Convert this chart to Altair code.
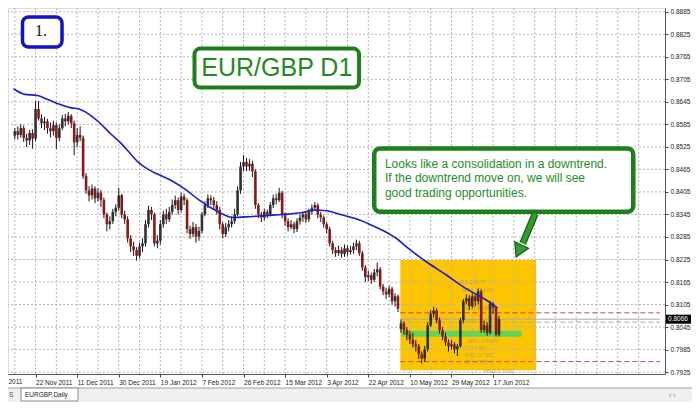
import altair as alt
import pandas as pd

W, H = 657, 366          # plot area
TOTAL_W, TOTAL_H = 684, 394

opens = [
    .8555, .8567, .8557, .8575, .8549, .8542, .8562, .8547, .8626, .8601,
    .8588, .8593, .8575, .8567, .8583, .8549, .8575, .8601, .8593, .8608,
    .8588, .8537, .8557, .8549, .8447, .8409, .8396, .8414, .8388, .8403,
    .8383, .8345, .8319, .8327, .8352, .8363, .8396, .8345, .8332, .8281,
    .8260, .8250, .8235, .8260, .8268, .8319, .8357, .8345, .8268, .8275,
    .8319, .8345, .8332, .8352, .8370, .8383, .8357, .8393, .8383, .8306,
    .8293, .8311, .8286, .8301, .8345, .8370, .8388, .8383, .8370, .8357,
    .8319, .8293, .8311, .8319, .8327, .8345, .8409, .8473, .8485, .8473,
    .8480, .8460, .8370, .8345, .8337, .8352, .8345, .8370, .8388, .8383,
    .8403, .8345, .8327, .8311, .8319, .8306, .8327, .8337, .8345, .8332,
    .8352, .8363, .8370, .8345, .8337, .8319, .8306, .8268, .8250, .8242,
    .8250, .8240, .8255, .8245, .8250, .8260, .8268, .8242, .8204, .8178,
    .8183, .8171, .8191, .8199, .8153, .8140, .8132, .8147, .8114, .8127,
    .8040, .8055, .8037, .8025, .8012, .7999, .7994, .7973, .7961, .7986,
    .8050, .8081, .8089, .8063, .8037, .8020, .8004, .7994, .7999, .7986,
    .7994, .8063, .8114, .8122, .8101, .8127, .8114, .8140, .8037, .8050,
    .8030, .8107, .8097, .8025,
]
closes = [
    .8567, .8557, .8575, .8549, .8542, .8562, .8547, .8626, .8601, .8588,
    .8593, .8575, .8567, .8583, .8549, .8575, .8601, .8593, .8608, .8588,
    .8537, .8557, .8549, .8447, .8409, .8396, .8414, .8388, .8403, .8383,
    .8345, .8319, .8327, .8352, .8363, .8396, .8345, .8332, .8281, .8260,
    .8250, .8235, .8260, .8268, .8319, .8357, .8345, .8268, .8275, .8319,
    .8345, .8332, .8352, .8370, .8383, .8357, .8393, .8383, .8306, .8293,
    .8311, .8286, .8301, .8345, .8370, .8388, .8383, .8370, .8357, .8319,
    .8293, .8311, .8319, .8327, .8345, .8409, .8473, .8485, .8473, .8480,
    .8460, .8370, .8345, .8337, .8352, .8345, .8370, .8388, .8383, .8403,
    .8345, .8327, .8311, .8319, .8306, .8327, .8337, .8345, .8332, .8352,
    .8363, .8370, .8345, .8337, .8319, .8306, .8268, .8250, .8242, .8250,
    .8240, .8255, .8245, .8250, .8260, .8268, .8242, .8204, .8178, .8183,
    .8171, .8191, .8199, .8153, .8140, .8132, .8147, .8114, .8127, .8094,
    .8055, .8037, .8025, .8012, .7999, .7994, .7973, .7961, .7986, .8050,
    .8081, .8089, .8063, .8037, .8020, .8004, .7994, .7999, .7986, .7994,
    .8063, .8114, .8122, .8101, .8127, .8114, .8140, .8037, .8050, .8030,
    .8107, .8097, .8025, .8066,
]
highs = [
    .8575, .8580, .8585, .8582, .8560, .8570, .8572, .8647, .8647, .8612,
    .8605, .8600, .8590, .8595, .8590, .8585, .8610, .8613, .8618, .8612,
    .8595, .8575, .8580, .8555, .8455, .8420, .8425, .8420, .8415, .8410,
    .8390, .8350, .8340, .8360, .8372, .8416, .8400, .8355, .8340, .8290,
    .8272, .8258, .8270, .8282, .8330, .8368, .8365, .8350, .8290, .8330,
    .8355, .8360, .8365, .8385, .8395, .8390, .8403, .8400, .8388, .8315,
    .8325, .8320, .8312, .8352, .8380, .8398, .8396, .8392, .8380, .8365,
    .8325, .8322, .8330, .8340, .8360, .8420, .8485, .8503, .8495, .8492,
    .8488, .8465, .8375, .8352, .8360, .8358, .8378, .8398, .8400, .8416,
    .8408, .8350, .8335, .8330, .8325, .8335, .8345, .8352, .8350, .8360,
    .8372, .8378, .8375, .8352, .8342, .8325, .8312, .8275, .8258, .8262,
    .8258, .8265, .8262, .8262, .8270, .8278, .8275, .8248, .8210, .8195,
    .8190, .8200, .8217, .8205, .8160, .8150, .8155, .8152, .8135, .8132,
    .8065, .8060, .8045, .8035, .8030, .8010, .8000, .7980, .7995, .8058,
    .8090, .8099, .8095, .8070, .8045, .8030, .8012, .8010, .8005, .8000,
    .8070, .8120, .8132, .8130, .8135, .8132, .8148, .8145, .8062, .8058,
    .8115, .8112, .8100, .8075,
]
lows = [
    .8545, .8545, .8550, .8538, .8525, .8530, .8520, .8540, .8595, .8575,
    .8570, .8560, .8550, .8555, .8519, .8540, .8570, .8580, .8585, .8575,
    .8503, .8525, .8540, .8440, .8400, .8380, .8385, .8375, .8380, .8365,
    .8335, .8300, .8305, .8320, .8340, .8355, .8335, .8320, .8270, .8245,
    .8235, .8222, .8228, .8245, .8260, .8310, .8330, .8260, .8255, .8265,
    .8310, .8320, .8325, .8345, .8360, .8345, .8350, .8370, .8295, .8280,
    .8285, .8270, .8275, .8295, .8340, .8362, .8370, .8360, .8345, .8305,
    .8281, .8285, .8300, .8310, .8320, .8340, .8400, .8460, .8460, .8462,
    .8445, .8360, .8335, .8325, .8330, .8335, .8340, .8362, .8372, .8378,
    .8335, .8315, .8300, .8305, .8295, .8298, .8318, .8325, .8322, .8325,
    .8345, .8355, .8335, .8325, .8310, .8295, .8260, .8240, .8232, .8235,
    .8230, .8232, .8235, .8238, .8240, .8250, .8235, .8195, .8165, .8168,
    .8160, .8165, .8180, .8145, .8130, .8120, .8125, .8105, .8100, .8085,
    .8030, .8025, .8010, .8000, .7990, .7980, .7960, .7948, .7952, .7980,
    .8045, .8070, .8055, .8028, .8010, .7995, .7980, .7985, .7975, .7968,
    .7990, .8055, .8105, .8090, .8095, .8100, .8105, .8030, .8030, .8022,
    .8025, .8080, .8020, .8020,
]
bars = list(range(len(closes)))

# moving average (blue line) read at selected bar positions
ma_bars = [-0.45, 3.4, 7.6, 10.9, 14.8, 19.0, 21.6, 24.8, 28.7, 32.0, 36.2, 39.0,
           41.7, 44.9, 48.2, 53.0, 57.9, 62.1, 66.0, 70.2, 73.4, 79.0, 84.4, 90.3,
           96.8, 101.0, 104.9, 109.7, 114.6, 119.4, 124.3, 128.5, 132.4, 138.9,
           145.4, 151.8, 158.3, 162.5]
ma_vals = [0.8680, 0.8665, 0.8662, 0.8652, 0.8639, 0.8629, 0.8626, 0.8613, 0.8588,
           0.8562, 0.8531, 0.8506, 0.8483, 0.8465, 0.8452, 0.8434, 0.8409, 0.8383,
           0.8363, 0.8345, 0.8337, 0.8339, 0.8342, 0.8345, 0.8350, 0.8357, 0.8355,
           0.8345, 0.8334, 0.8319, 0.8301, 0.8281, 0.8255, 0.8217, 0.8183, 0.8148,
           0.8119, 0.8096]

price_ticks = [0.8885, 0.8825, 0.8765, 0.8705, 0.8645, 0.8585, 0.8525, 0.8465,
               0.8405, 0.8345, 0.8285, 0.8225, 0.8165, 0.8105, 0.8045, 0.7985, 0.7925]
date_bars = [7, 21, 35, 49, 63, 77, 91, 105, 119, 133, 147, 161]
date_labels = ["22 Nov 2011", "11 Dec 2011", "30 Dec 2011", "19 Jan 2012",
               "7 Feb 2012", "26 Feb 2012", "15 Mar 2012", "3 Apr 2012", "22 Apr 2012",
               "10 May 2012", "29 May 2012", "17 Jun 2012"]
first_label = "2011"   # visible tail of the label left of the view
grid_bars = [0, 7, 14, 21, 28, 35, 42, 49, 56, 63, 70, 77, 84, 91, 98, 105, 112,
             119, 126, 133, 140, 147, 154, 161, 168, 175, 182, 189, 196, 203, 210]

# objects on the chart
zone = dict(x1=129.8, x2=175.5, y1=0.8224, y2=0.7930)
band = dict(x1=130.1, x2=170.6, y1=0.8035, y2=0.8019)
level_prices = [0.8083, 0.7953, 0.8058, 0.8066]
level_from = [129.8, 129.8, 129.8, 129.8]
level_to = [217.2, 217.2, 217.2, 217.2]
level_colors = ["#e23b3b", "#e23b3b", "#8cbf8c", "#a8a8a8"]
level_kind = ["red1", "red2", "green", "bid"]
last_price = 0.8066

pivot_text = ["R2 0.8177", "MR1 0.8143", "R1 0.8096", "PP 0.8066", "MS1 0.8025",
              "S1 0.7997", "MS2 0.7981", "S2 0.7965", "MS3 0.7930"]
pivot_x = [150.0, 150.5, 151.0, 152.0, 152.5, 150.5, 151.5, 151.0, 158.0]
pivot_y = [0.8166, 0.8145, 0.8096, 0.8060, 0.8009, 0.7989, 0.7971, 0.7953, 0.7928]

box1 = dict(x1=2.6, x2=15.9, y1=0.8871, y2=0.8791, tx=8.8, ty=0.8833, text="1.")
box2 = dict(x1=60.5, x2=115.9, y1=0.8787, y2=0.8683, tx=88.2, ty=0.8735, text="EUR/GBP D1")
box3 = dict(x1=121.0, x2=208.2, y1=0.8521, y2=0.8352)
note_lines = ["Looks like a consolidation in a downtrend.",
              "If the downtrend move on, we will see",
              "good trading opportunities."]
note_x = 124.6
note_y = [0.8480, 0.8443, 0.8403]
arrow = dict(x1=175.2, y1=0.8347, x2=171.0, y2=0.8268, hx=170.0, hy=0.8253)

xs = alt.Scale(domain=[-0.6, 217.2], nice=False, zero=False)
ys = alt.Scale(domain=[0.7920, 0.8895], nice=False, zero=False)

label_expr = "[" + ",".join("'%s'" % s for s in date_labels) + "][indexof(" + \
    "[" + ",".join(str(b) for b in date_bars) + "], datum.value)]"

AX_X = alt.Axis(
    orient="bottom", values=date_bars, labelExpr=label_expr, labelAlign="left",
    labelFontSize=6.5, labelFont="Liberation Sans", labelColor="#222",
    labelPadding=2, labelFlush=False, labelOverlap=False, labelBound=False,
    tickSize=3, tickColor="#444", domainColor="#555", grid=False, title=None)
AX_Y = alt.Axis(
    orient="right", values=price_ticks, format=".4f", labelFontSize=6.5,
    labelFont="Liberation Sans", labelColor="#222", labelPadding=2,
    labelFlush=False, labelOverlap=False, tickSize=3, tickColor="#444",
    domainColor="#555", grid=False, title=None)


def X(f):
    return alt.X(f, type="quantitative", scale=xs, axis=AX_X)


def Y(f):
    return alt.Y(f, type="quantitative", scale=ys, axis=AX_Y)


one = pd.DataFrame([{"k": 0}])
df = pd.DataFrame({"bar": bars, "open": opens, "high": highs, "low": lows, "close": closes})
ma_df = pd.DataFrame({"bar": ma_bars, "ma": ma_vals})

zone_l = alt.Chart(pd.DataFrame([zone])).mark_rect(color="#fcc500").encode(
    x=X("x1"), x2="x2", y=Y("y1"), y2="y2")

vgrid = alt.Chart(pd.DataFrame({"g": grid_bars})).mark_rule(
    color="#b4b4b4", strokeDash=[2, 2], strokeWidth=1).encode(x=X("g"))
hgrid = alt.Chart(pd.DataFrame({"p": price_ticks})).mark_rule(
    color="#b4b4b4", strokeDash=[2, 2], strokeWidth=1).encode(y=Y("p"))

band_l = alt.Chart(pd.DataFrame([band])).mark_rect(color="#62d45a").encode(
    x=X("x1"), x2="x2", y=Y("y1"), y2="y2")

lev_df = pd.DataFrame({"p": level_prices, "a": level_from, "b": level_to,
                       "c": level_colors, "k": level_kind})
lev_dash = alt.Chart(lev_df).transform_filter("datum.k != 'bid'").mark_rule(
    strokeDash=[5, 3], strokeWidth=1).encode(
    x=X("a"), x2="b", y=Y("p"), color=alt.Color("c:N", scale=None))
lev_bid = alt.Chart(lev_df).transform_filter("datum.k == 'bid'").mark_rule(
    strokeWidth=1).encode(x=X("a"), x2="b", y=Y("p"), color=alt.Color("c:N", scale=None))

piv = alt.Chart(pd.DataFrame({"t": pivot_text, "x": pivot_x, "y": pivot_y})).mark_text(
    fontSize=5.5, font="Liberation Sans", color="#c2a552", align="left", baseline="middle").encode(
    x=X("x"), y=Y("y"), text="t:N")

wicks = alt.Chart(df).mark_rule(color="#151515", strokeWidth=1).encode(
    x=X("bar"), y=Y("low"), y2="high")

bodies = alt.Chart(df).mark_bar(size=2.6).encode(
    x=X("bar"), y=Y("open"), y2="close",
    color=alt.condition("datum.close >= datum.open", alt.value("#303030"), alt.value("#8a1818")))

ma_l = alt.Chart(ma_df).mark_line(color="#1c1ccf", strokeWidth=1.6, interpolate="monotone").encode(
    x=X("bar"), y=Y("ma"))


def box(d, stroke, sw, shadow=True):
    data = pd.DataFrame([d])
    layers = []
    if shadow:
        layers.append(alt.Chart(data).mark_rect(color="#777", opacity=0.55, cornerRadius=6,
                                                xOffset=2.5, yOffset=2.5).encode(
            x=X("x1"), x2="x2", y=Y("y1"), y2="y2"))
    layers.append(alt.Chart(data).mark_rect(fill="white", stroke=stroke, strokeWidth=sw,
                                            cornerRadius=6).encode(
        x=X("x1"), x2="x2", y=Y("y1"), y2="y2"))
    return layers


b1 = box(box1, "#1212c8", 3.5)
b2 = box(box2, "#1f7f1f", 4)
b3 = box(box3, "#1f7f1f", 4.5)

t1 = alt.Chart(pd.DataFrame([box1])).mark_text(
    font="Liberation Serif", fontSize=16, color="#111", align="center", baseline="middle").encode(
    x=X("tx"), y=Y("ty"), text="text:N")
t2 = alt.Chart(pd.DataFrame([box2])).mark_text(
    font="Liberation Sans", fontSize=25, color="#218c21", align="center", baseline="middle").encode(
    x=X("tx"), y=Y("ty"), text="text:N")
t3 = alt.Chart(pd.DataFrame({"t": note_lines, "y": note_y, "x": [note_x] * 3})).mark_text(
    font="Liberation Sans", fontSize=12, color="#248c24", align="left", baseline="middle").encode(
    x=X("x"), y=Y("y"), text="t:N")

arr_df = pd.DataFrame([arrow])
arr_o = alt.Chart(arr_df).mark_rule(color="#145c14", strokeWidth=7).encode(
    x=X("x1"), x2="x2", y=Y("y1"), y2="y2")
arr_i = alt.Chart(arr_df).mark_rule(color="#2f9e2f", strokeWidth=4.5).encode(
    x=X("x1"), x2="x2", y=Y("y1"), y2="y2")
arr_h = alt.Chart(arr_df).mark_point(shape="triangle", size=230, filled=True, color="#2f9e2f",
                                     stroke="#145c14", strokeWidth=1.2, opacity=1, angle=205).encode(
    x=X("hx"), y=Y("hy"))

lp = pd.DataFrame([{"p": last_price, "hi": last_price + 0.0012, "lo": last_price - 0.0012,
                    "t": "%.4f" % last_price}])
lp_box = alt.Chart(lp).mark_rect(color="black").encode(
    x=alt.value(W + 1), x2=alt.value(W + 26), y=Y("hi"), y2="lo")
lp_txt = alt.Chart(lp).mark_text(color="white", fontSize=6.5, font="Liberation Sans",
                                 align="left", baseline="middle").encode(
    x=alt.value(W + 3), y=Y("p"), text="t:N")

first_lbl = alt.Chart(pd.DataFrame([{"t": first_label}])).mark_text(
    fontSize=6.5, font="Liberation Sans", color="#222", align="left", baseline="top").encode(
    x=alt.value(0.5), y=alt.value(H + 5), text="t:N")

tab_bg = alt.Chart(one).mark_rect(color="#f0f0f0").encode(
    x=alt.value(0), x2=alt.value(TOTAL_W), y=alt.value(380), y2=alt.value(TOTAL_H))
tab_line = alt.Chart(one).mark_rule(color="#a0a0a0").encode(
    x=alt.value(0), x2=alt.value(TOTAL_W), y=alt.value(380))
tab = alt.Chart(one).mark_rect(fill="white", stroke="#8a8a8a", strokeWidth=1).encode(
    x=alt.value(13), x2=alt.value(70), y=alt.value(380), y2=alt.value(393))
tab_txt = alt.Chart(pd.DataFrame([{"t": "EURGBP,Daily"}])).mark_text(
    fontSize=6.5, font="Liberation Sans", color="#222", align="left", baseline="middle").encode(
    x=alt.value(17), y=alt.value(387), text="t:N")
tab_s = alt.Chart(pd.DataFrame([{"t": "S"}])).mark_text(
    fontSize=6.5, font="Liberation Sans", color="#555", align="left", baseline="middle").encode(
    x=alt.value(1), y=alt.value(387), text="t:N")
tab_arrows = alt.Chart(pd.DataFrame([{"t": "\u2039   \u203a"}])).mark_text(
    fontSize=7, font="Liberation Sans", color="#777", align="left", baseline="middle").encode(
    x=alt.value(661), y=alt.value(388), text="t:N")

chart = alt.layer(
    zone_l, vgrid, hgrid, band_l, lev_dash, lev_bid, piv, wicks, bodies, ma_l,
    *b1, *b2, *b3, t1, t2, t3, arr_o, arr_i, arr_h, lp_box, lp_txt, first_lbl,
    tab_bg, tab_line, tab, tab_txt, tab_s, tab_arrows,
).properties(
    width=W, height=H,
    autosize=alt.AutoSizeParams(type="none"),
    padding={"left": 0, "top": 0, "right": TOTAL_W - W, "bottom": TOTAL_H - H},
).configure_view(stroke=None).configure(background="white")

chart.save("out.html", embed_options={"renderer": "svg", "actions": False})
